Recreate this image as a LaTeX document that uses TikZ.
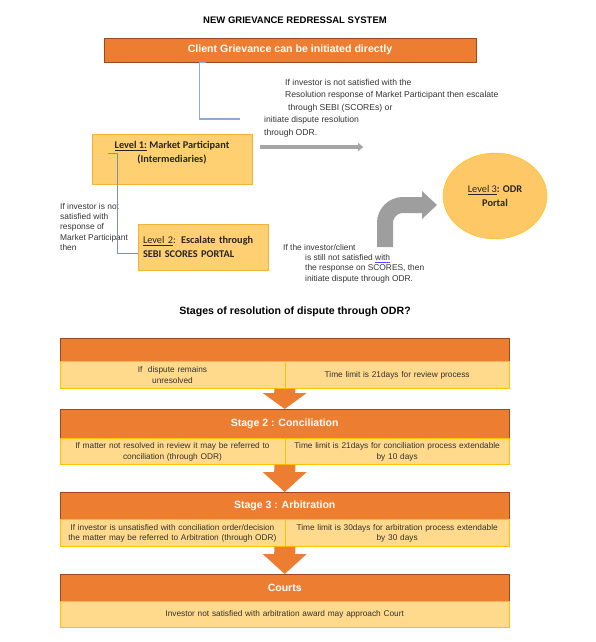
\documentclass[tikz,border=0pt]{standalone}
\usepackage{fontspec}
\setmainfont{Liberation Sans}
\newfontfamily\calibri{Carlito}
\usetikzlibrary{arrows.meta,positioning,calc,shapes.geometric}

\definecolor{hdrorange}{HTML}{ED7D31}
\definecolor{hdrline}{HTML}{9C4A1A}
\definecolor{lvlfill}{HTML}{FFD071}
\definecolor{lvlline}{HTML}{F5B335}
\definecolor{rowfill}{HTML}{FFD98C}
\definecolor{rowline}{HTML}{FFC000}
\definecolor{txtgray}{HTML}{333333}
\definecolor{linkblue}{HTML}{8FAADC}
\definecolor{linkgray}{HTML}{7D8FB3}
\definecolor{arrowgray}{HTML}{A6A6A6}

\tikzset{
  hdr/.style={draw=hdrline, fill=hdrorange, text=white, font=\bfseries\fontsize{10.5}{12}\selectfont,
    minimum width=449pt, anchor=north west, inner sep=0pt},
  cell/.style={draw=rowline, fill=rowfill, text=txtgray, font=\fontsize{8.3}{10.5}\selectfont,
    minimum width=224.5pt, text width=221pt, align=center, inner sep=0pt},
  lvlbox/.style={draw=lvlline, fill=lvlfill, text=black!85, font=\calibri\fontsize{10.3}{14}\selectfont},
  note/.style={text=txtgray, align=left, inner sep=0pt, anchor=north west},
}

% fat orange arrow between two stages
\newcommand{\fatarrow}[3]{%
  \fill[hdrorange] ($(#1)+(-10.5,0)$) -- ($(#1)+(10.5,0)$) -- ($(#2)+(10.5,-#3)$)
    -- ($(#2)+(22,-#3)$) -- (#2) -- ($(#2)+(-22,-#3)$) -- ($(#2)+(-10.5,-#3)$) -- cycle;}

\begin{document}
\begin{tikzpicture}[x=1pt,y=-1pt]
	\useasboundingbox (0,0) rectangle (595,642);

	% upper part
	\node (Title) at (295,20) {\bfseries\fontsize{9.5}{10}\selectfont NEW GRIEVANCE REDRESSAL SYSTEM};
	\node [draw=hdrline, fill=hdrorange, text=white, minimum width=372pt, minimum height=24pt,
		font=\bfseries\fontsize{10.6}{12}\selectfont](Client) at (290,50) {Client Grievance can be initiated directly};
	\node [note, font=\fontsize{8.6}{12.5}\selectfont](NoteOne) at (264,79)
		{\hspace*{21pt}If investor is not satisfied with the\\
		 \hspace*{21pt}Resolution response of Market Participant then escalate\\
		 \hspace*{24pt}through SEBI (SCOREs) or\\
		 initiate dispute resolution\\
		 through ODR.};
	\coordinate (NoteEnd) at (240,119);
	\draw [linkblue, line width=1.2pt]([xshift=102pt]Client.south west) -- ++(-6,0) |- (NoteEnd);

	\node [lvlbox, minimum width=160pt, minimum height=50pt, align=center](LevelOne) at (172,159)
		{\textbf{\underline{Level 1:} Market Participant}\\\textbf{(Intermediaries)}\\\mbox{}};
	\node [lvlbox, minimum width=130pt, minimum height=46pt, text width=120pt, align=left](LevelTwo) at (203,247)
		{\underline{Level 2}: \textbf{Escalate through}\\\textbf{SEBI SCORES PORTAL}};
	\node [lvlbox, ellipse, minimum width=104pt, minimum height=86pt, align=center, fill=lvlfill!90!orange, draw=rowline](LevelThree) at (495,196)
		{\underline{Level 3}\textbf{: ODR}\\\textbf{Portal}};

	\node [note, font=\fontsize{8.4}{10.3}\selectfont](NoteTwo) at (60,203)
		{If investor is not\\satisfied with\\response of\\Market Participant\\then};
	\draw [linkgray, line width=0.9pt]([xshift=16pt,yshift=6pt]LevelOne.west) -- ++(10,0) |- ([yshift=-6pt]LevelTwo.west);

	\draw [arrowgray, line width=3.5pt, -{Triangle[length=5pt,width=8pt]}]([xshift=8pt,yshift=12pt]LevelOne.east) -- ++(103,0);

	\node [note, font=\fontsize{8.4}{10.3}\selectfont](NoteThree) at (283,244)
		{If the investor/client\\
		 \hspace*{22pt}is still not satisfied {\color{blue!70}\underline{\color{txtgray}with}}\\
		 \hspace*{22pt}the response on SCORES, then\\
		 \hspace*{22pt}initiate dispute through ODR.};
	\coordinate (BendStart) at (385,247);
	\coordinate (BendTip) at (437,205);
	\draw [arrowgray!95!black, line width=16pt, rounded corners=18pt](BendStart) |- ([xshift=-14pt]BendTip);
	\fill [arrowgray!95!black]([shift={(-15,-14)}]BendTip) -- (BendTip) -- ([shift={(-15,14)}]BendTip) -- cycle;

	% stages
	\node (StagesTitle) at (295,312) {\bfseries\fontsize{10.6}{12}\selectfont Stages of resolution of dispute through ODR?};

	\node [hdr, minimum height=23pt](StageOne) at (60,338) {};
	\node [cell, minimum height=27pt, below right=0pt of StageOne.south west, anchor=north west](RowOneL) {If\ \ dispute remains\\unresolved};
	\node [cell, minimum height=27pt, below right=0pt of StageOne.south, anchor=north west](RowOneR) {Time limit is 21days for review process};

	\node [hdr, minimum height=29pt](StageTwo) at (60,409) {Stage 2 : Conciliation};
	\node [cell, minimum height=26pt, below right=0pt of StageTwo.south west, anchor=north west](RowTwoL) {If matter not resolved in review it may be referred to\\conciliation (through ODR)};
	\node [cell, minimum height=26pt, below right=0pt of StageTwo.south, anchor=north west](RowTwoR) {Time limit is 21days for conciliation process extendable\\by 10 days};

	\node [hdr, minimum height=27pt](StageThree) at (60,492) {Stage 3 : Arbitration};
	\node [cell, minimum height=27pt, below right=0pt of StageThree.south west, anchor=north west](RowThreeL) {If investor is unsatisfied with conciliation order/decision\\the matter may be referred to Arbitration (through ODR)};
	\node [cell, minimum height=27pt, below right=0pt of StageThree.south, anchor=north west](RowThreeR) {Time limit is 30days for arbitration process extendable\\by 30 days};

	\node [hdr, minimum height=27pt](Courts) at (60,574) {Courts};
	\node [cell, minimum height=26pt, minimum width=449pt, text width=440pt, below right=0pt of Courts.south west, anchor=north west](RowCourts) {Investor not satisfied with arbitration award may approach Court};

	\fatarrow{RowOneL.south east}{StageTwo.north}{16}
	\fatarrow{RowTwoL.south east}{StageThree.north}{20}
	\fatarrow{RowThreeL.south east}{Courts.north}{20}
\end{tikzpicture}
\end{document}
